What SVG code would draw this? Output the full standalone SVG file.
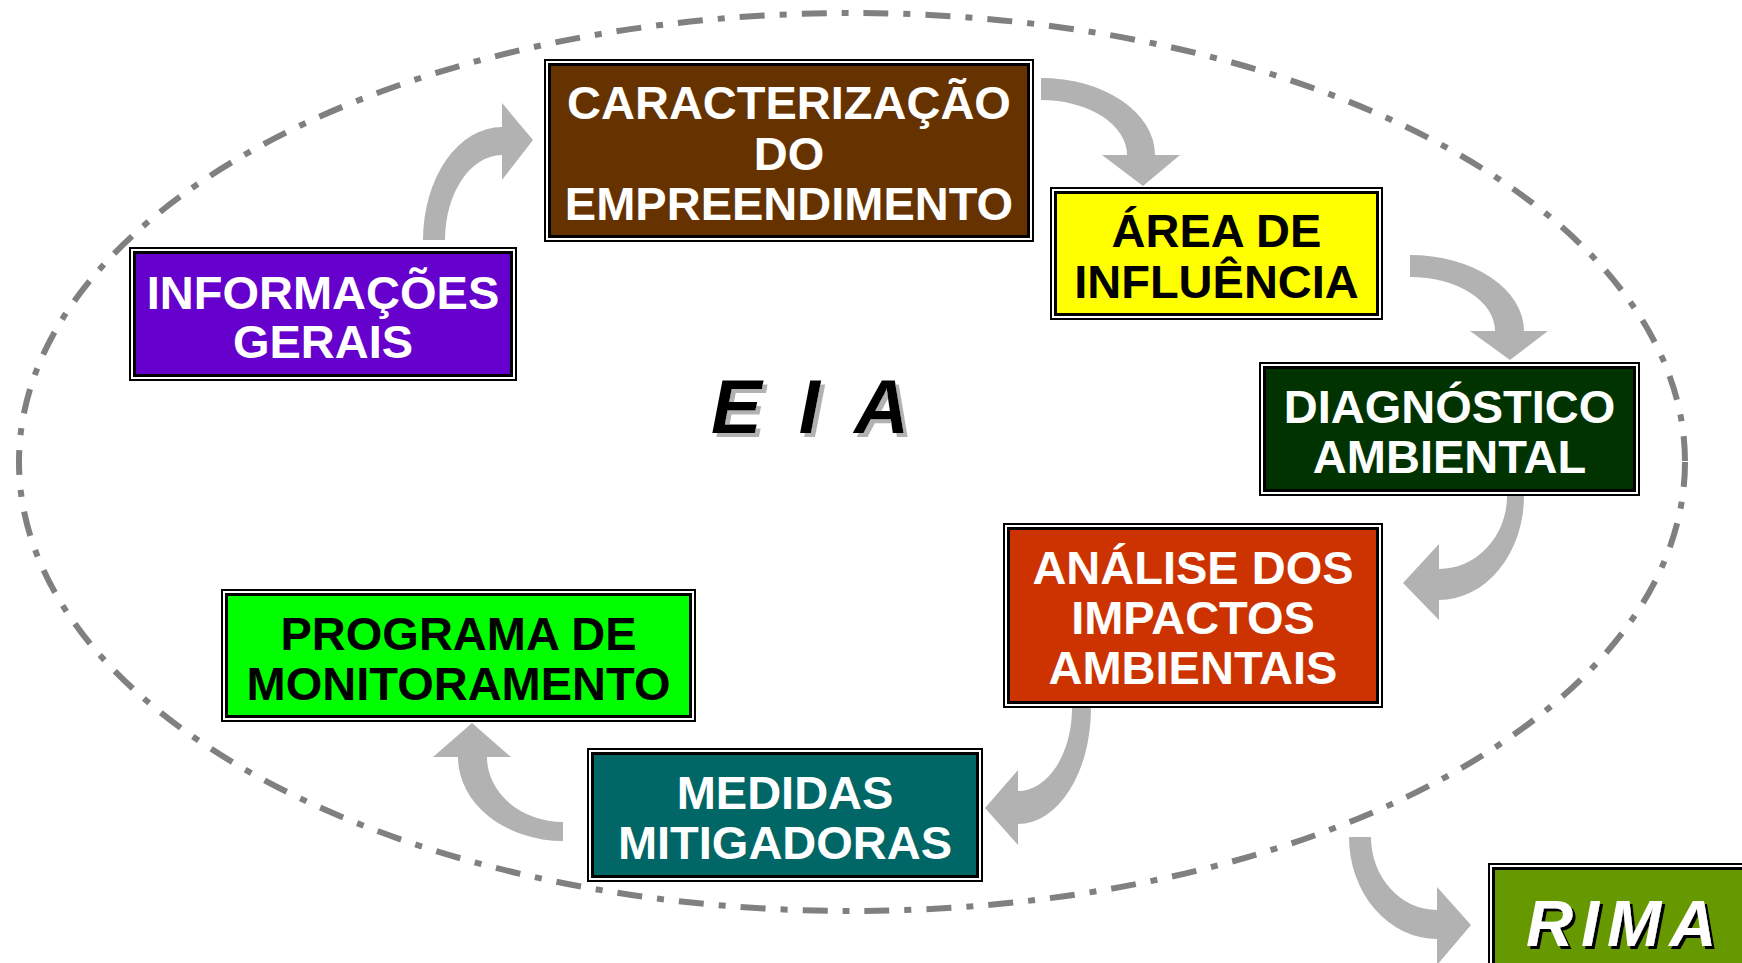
<svg xmlns="http://www.w3.org/2000/svg" width="1742" height="963" viewBox="0 0 1742 963">
<defs>
<filter id="shGray" x="-10%" y="-10%" width="130%" height="130%">
<feFlood flood-color="#b2b2b2"/>
<feComposite in2="SourceAlpha" operator="in"/>
<feOffset dx="4" dy="4" result="s"/>
<feMerge><feMergeNode in="s"/><feMergeNode in="SourceGraphic"/></feMerge>
</filter>
<filter id="shBlack" x="-10%" y="-10%" width="130%" height="130%">
<feFlood flood-color="#000"/>
<feComposite in2="SourceAlpha" operator="in"/>
<feOffset dx="3" dy="3" result="s"/>
<feMerge><feMergeNode in="s"/><feMergeNode in="SourceGraphic"/></feMerge>
</filter>
</defs>
<style>
.outer{fill:#fff;stroke:#000;stroke-width:2}
.inner{stroke:#000;stroke-width:3}
.t{font-family:"Liberation Sans",Arial,sans-serif;font-weight:bold;font-size:47px;text-anchor:middle}
.w{fill:#fff}
.k{fill:#000}
.arr{fill:#b2b2b2;stroke:none}
.big{font-family:"Liberation Sans",Arial,sans-serif;font-weight:bold;font-style:italic}
</style>
<rect width="1742" height="963" fill="#fff"/>
<ellipse cx="852" cy="462" rx="833" ry="449" fill="none" stroke="#808080" stroke-width="6" stroke-dasharray="25 15 7 15"/>
<g id="connectors">
<path class="arr" d="M423,240 A79,113 0 0 1 502,127 L502,103 L533,140 L502,180 L502,155 A57,85 0 0 0 445,240 Z"/>
<path class="arr" d="M1041,78 A114,77 0 0 1 1155,155 L1180,155 L1143,186 L1102,155 L1127,155 A86,55 0 0 0 1041,100 Z"/>
<path class="arr" d="M1410,255 A114,76 0 0 1 1524,331 L1548,331 L1510,360 L1470,331 L1495,331 A85,54 0 0 0 1410,277 Z"/>
<path class="arr" d="M1524,496 A85,104 0 0 1 1439,600 L1439,620 L1403,583 L1439,544 L1439,569 A68,73 0 0 0 1507,496 Z"/>
<path class="arr" d="M1091,708 A73,116 0 0 1 1018,824 L1018,845 L985,808 L1018,770 L1018,791 A54,83 0 0 0 1072,708 Z"/>
<path class="arr" d="M563,841 A105,84 0 0 1 458,757 L433,757 L472,723 L511,757 L487,757 A76,65 0 0 0 563,822 Z"/>
<path class="arr" d="M1349,837 A88,102 0 0 0 1437,939 L1437,965 L1471,925 L1437,887 L1437,910 A66,73 0 0 1 1371,837 Z"/>
</g>
<g id="caracterizacao">
<rect class="outer" x="545" y="60" width="488" height="181"/>
<rect class="inner" x="549.5" y="64.5" width="479" height="172" fill="#663300"/>
<text class="t w" x="789" y="119">CARACTERIZAÇÃO</text>
<text class="t w" x="789" y="170">DO</text>
<text class="t w" x="789" y="220">EMPREENDIMENTO</text>
</g>
<g id="area">
<rect class="outer" x="1051" y="188" width="331" height="131"/>
<rect class="inner" x="1055.5" y="192.5" width="322" height="122" fill="#ffff00"/>
<text class="t k" x="1216.5" y="247">ÁREA DE</text>
<text class="t k" x="1216.5" y="298">INFLUÊNCIA</text>
</g>
<g id="diagnostico">
<rect class="outer" x="1260" y="363" width="379" height="132"/>
<rect class="inner" x="1264.5" y="367.5" width="370" height="123" fill="#003300"/>
<text class="t w" x="1449.5" y="423">DIAGNÓSTICO</text>
<text class="t w" x="1449.5" y="473">AMBIENTAL</text>
</g>
<g id="analise">
<rect class="outer" x="1004" y="524" width="378" height="183"/>
<rect class="inner" x="1008.5" y="528.5" width="369" height="174" fill="#cc3300"/>
<text class="t w" x="1193" y="584">ANÁLISE DOS</text>
<text class="t w" x="1193" y="634">IMPACTOS</text>
<text class="t w" x="1193" y="684">AMBIENTAIS</text>
</g>
<g id="medidas">
<rect class="outer" x="588" y="749" width="394" height="132"/>
<rect class="inner" x="592.5" y="753.5" width="385" height="123" fill="#006666"/>
<text class="t w" x="785" y="809">MEDIDAS</text>
<text class="t w" x="785" y="859">MITIGADORAS</text>
</g>
<g id="programa">
<rect class="outer" x="222" y="590" width="473" height="131"/>
<rect class="inner" x="226.5" y="594.5" width="464" height="122" fill="#00ff00"/>
<text class="t k" x="458.5" y="650">PROGRAMA DE</text>
<text class="t k" x="458.5" y="700">MONITORAMENTO</text>
</g>
<g id="informacoes">
<rect class="outer" x="130" y="248" width="386" height="132"/>
<rect class="inner" x="134.5" y="252.5" width="377" height="123" fill="#6600cc"/>
<text class="t w" x="323" y="309">INFORMAÇÕES</text>
<text class="t w" x="323" y="358">GERAIS</text>
</g>
<g id="eia">
<text class="big" x="711" y="433" font-size="76" letter-spacing="8" fill="#000" filter="url(#shGray)">E I A</text>
</g>
<g id="rima">
<rect class="outer" x="1489" y="864" width="260" height="110"/>
<rect class="inner" x="1493.5" y="868.5" width="260" height="110" fill="#669900"/>
<text class="big" x="1526" y="946" font-size="65" letter-spacing="8" fill="#fff" filter="url(#shBlack)">RIMA</text>
</g>
</svg>
